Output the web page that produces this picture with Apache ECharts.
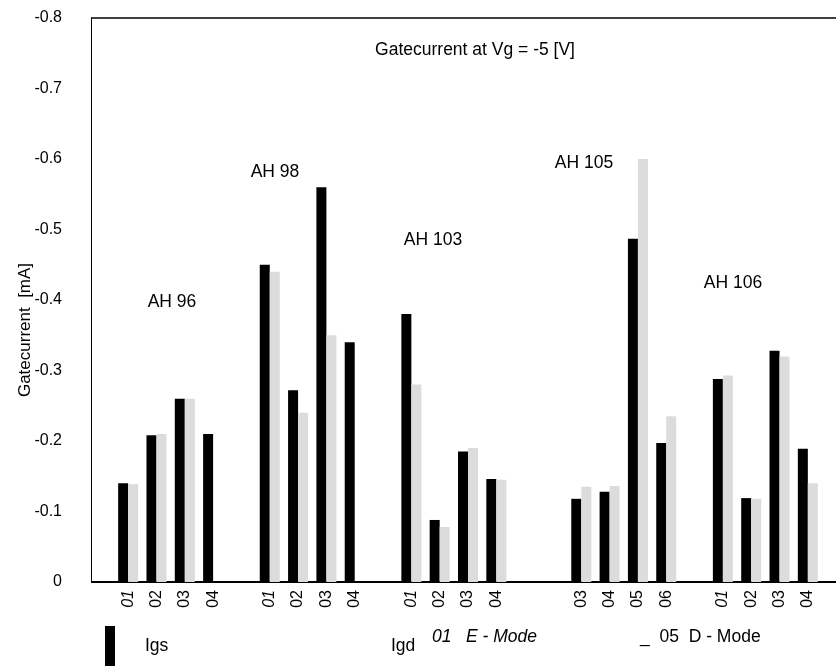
<!DOCTYPE html>
<html>
<head>
<meta charset="utf-8">
<script src="https://cdn.jsdelivr.net/npm/echarts@6/dist/echarts.min.js"></script>
<style>
html,body{margin:0;padding:0;background:#fff;}
#chart{width:836px;height:671px;}
</style>
</head>
<body>
<div id="chart"></div>
<script>
// ---- data ----
const categories = ['01','02','03','04','', '01','02','03','04','', '01','02','03','04','','', '03','04','05','06','', '01','02','03','04'];
const igs = [-0.14,-0.208,-0.26,-0.21, null, -0.45,-0.272,-0.56,-0.34, null, -0.38,-0.088,-0.185,-0.146, null,null, -0.118,-0.128,-0.487,-0.197, null, -0.288,-0.119,-0.328,-0.189];
const igd = [-0.139,-0.21,-0.26,null, null, -0.44,-0.24,-0.35,null, null, -0.28,-0.078,-0.19,-0.145, null,null, -0.135,-0.136,-0.60,-0.235, null, -0.293,-0.118,-0.32,-0.14];
const yTicks = [0,-0.1,-0.2,-0.3,-0.4,-0.5,-0.6,-0.7,-0.8];
const groupLabels = ['AH 96','AH 98','AH 103','AH 105','AH 106'];
const titleText = 'Gatecurrent at Vg = -5 [V]';
const yName = 'Gatecurrent  [mA]';

const FONT = "'Liberation Sans', Arial, sans-serif";
const chart = echarts.init(document.getElementById('chart'), null, {renderer:'canvas'});

const GRID_LEFT = 114, GRID_RIGHT = 14, GRID_TOP = 18, GRID_BOTTOM = 89, Y_OFFSET = 23;
const FS = 17.5;

const option = {
  backgroundColor:'#fff',
  animation:false,
  textStyle:{fontFamily:FONT, color:'#000'},
  grid:{left:GRID_LEFT, right:GRID_RIGHT, top:GRID_TOP, bottom:GRID_BOTTOM, containLabel:false},
  legend:[
    {data:[{name:'Igs', icon:'rect'}], left:100, top:621, itemWidth:10, itemHeight:40, selectedMode:false,
     textStyle:{fontSize:FS, fontFamily:FONT, color:'#000', padding:[6,0,0,25]}},
    {data:[{name:'Igd', icon:'rect'}], left:371, top:621, itemWidth:10, itemHeight:40, selectedMode:false,
     itemStyle:{opacity:0},
     textStyle:{fontSize:FS, fontFamily:FONT, color:'#000', padding:[4,0,0,0]}}
  ],
  xAxis:{
    type:'category', data:categories, boundaryGap:true,
    axisLine:{show:false}, axisTick:{show:false}, splitLine:{show:false},
    axisLabel:{interval:0, rotate:90, margin:8, fontSize:16, fontFamily:FONT, color:'#000',
      formatter:function(v){ return v==='01' ? '{i|01}' : v; },
      rich:{i:{fontStyle:'italic', fontSize:16, fontFamily:FONT, color:'#000'}}}
  },
  yAxis:{
    type:'value', min:-0.8, max:0, interval:0.1, inverse:true, offset:Y_OFFSET,
    axisLine:{show:true, lineStyle:{color:'#000', width:1}},
    axisTick:{show:false}, splitLine:{show:false},
    axisLabel:{margin:29, fontSize:16, fontFamily:FONT, color:'#000',
      formatter:function(v){ return Math.abs(v)<1e-9 ? '0' : v.toFixed(1); }}
  },
  series:[
    {name:'Igs', type:'bar', data:igs, barWidth:10, barGap:'0%', itemStyle:{color:'#000'}},
    {name:'Igd', type:'bar', data:igd, barWidth:10, barGap:'0%', itemStyle:{color:'#dcdcdc'}}
  ]
};
chart.setOption(option);

const y0 = chart.convertToPixel({yAxisIndex:0}, 0);
const yTop = chart.convertToPixel({yAxisIndex:0}, -0.8);
const xL = GRID_LEFT - Y_OFFSET;
const txt = (s, x, y) => ({type:'text', x:x, y:y, style:{text:s, font:FS+'px '+FONT, fill:'#000', textAlign:'center', textVerticalAlign:'middle'}});
chart.setOption({
  graphic:[
    {type:'line', shape:{x1:xL, y1:yTop, x2:836, y2:yTop}, style:{stroke:'#000', lineWidth:1.5}},
    {type:'line', shape:{x1:xL, y1:y0, x2:836, y2:y0}, style:{stroke:'#000', lineWidth:2}},
    {type:'text', x:25, y:330, rotation:Math.PI/2, style:{text:yName, font:'17px '+FONT, fill:'#000', textAlign:'center', textVerticalAlign:'middle'}},
    txt(titleText, 475, 50),
    txt(groupLabels[0], 172, 302),
    txt(groupLabels[1], 275, 172),
    txt(groupLabels[2], 433, 240),
    txt(groupLabels[3], 584, 163),
    txt(groupLabels[4], 733, 283),
    {type:'text', x:432, y:637, style:{text:'01   E - Mode', font:'italic '+FS+'px '+FONT, fill:'#000', textAlign:'left', textVerticalAlign:'middle'}},
    {type:'text', x:640, y:637, style:{text:'_  05  D - Mode', font:FS+'px '+FONT, fill:'#000', textAlign:'left', textVerticalAlign:'middle'}}
  ]
});
</script>
</body>
</html>
